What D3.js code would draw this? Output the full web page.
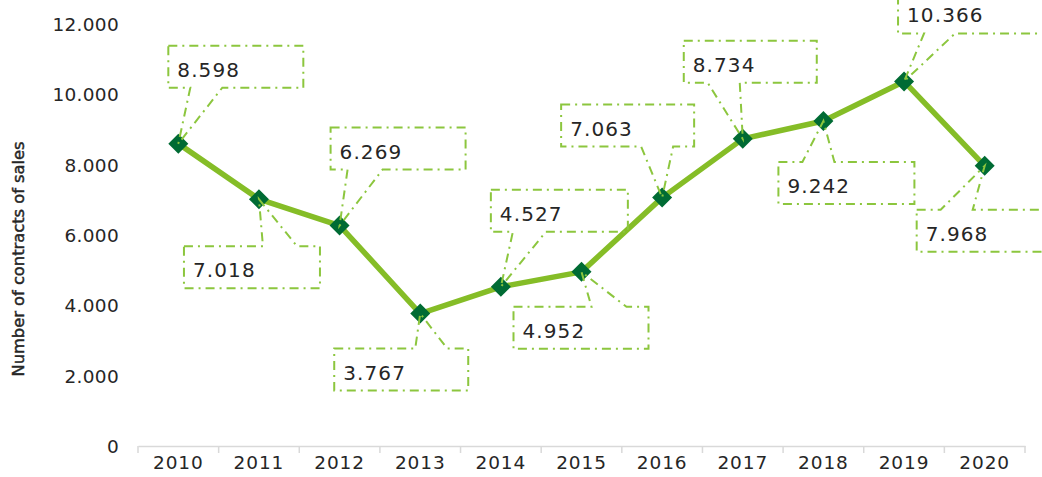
<!DOCTYPE html>
<html><head><meta charset="utf-8">
<script src="https://cdn.jsdelivr.net/npm/d3@7"></script>
<style>body{margin:0;background:#fff}svg{display:block}</style>
</head><body>
<svg id="c" width="1042" height="477"></svg>
<script>
const years = ["2010","2011","2012","2013","2014","2015","2016","2017","2018","2019","2020"];
const contracts = [8598, 7018, 6269, 3767, 4527, 4952, 7063, 8734, 9242, 10366, 7968];
const yTicks = [0, 2000, 4000, 6000, 8000, 10000, 12000];
const yTitle = "Number of contracts of sales";

// callout layout (pixel offsets from the point), kept apart from the data
const calloutLayout = [
  {dx:-10, dy:-98, w:135, side:"bottom", wa:22, wb:54},
  {dx:-75, dy:47,  w:136, side:"top",    wa:79, wb:113},
  {dx:-9,  dy:-98, w:135, side:"bottom", wa:17, wb:52},
  {dx:-86, dy:35,  w:134, side:"top",    wa:81, wb:113},
  {dx:-10, dy:-97, w:137, side:"bottom", wa:22, wb:55},
  {dx:-68, dy:35,  w:135, side:"top",    wa:78, wb:113},
  {dx:-101,dy:-93, w:133, side:"bottom", wa:80, wb:112},
  {dx:-59, dy:-98, w:133, side:"bottom", wa:24, wb:56},
  {dx:-45, dy:41,  w:136, side:"top",    wa:24, wb:56},
  {dx:-6,  dy:-90, w:150, side:"bottom", wa:26, wb:57},
  {dx:-68, dy:44,  w:140, side:"top",    wa:24, wb:56}
];

const svg = d3.select("#c");
const locale = d3.formatLocale({decimal:",", thousands:".", grouping:[3], currency:["",""]});
const fmt = locale.format(",d");

const x = d3.scaleBand().domain(years).range([138, 1025]);
const y = d3.scaleLinear().domain([0, 12000]).range([446, 24]);
const font = "DejaVu Sans, Verdana, sans-serif";
const lime = "#85bd27", dark = "#006b34", textCol = "#262626";

// y axis
const ya = svg.append("g").attr("transform","translate(126,0)")
  .call(d3.axisLeft(y).tickValues(yTicks).tickFormat(fmt).tickSize(0).tickPadding(7));
ya.select(".domain").remove();
ya.selectAll("text").attr("font-family",font).attr("font-size",18.5).attr("fill",textCol)
  .attr("letter-spacing","0.3px").attr("dy","0.35em");

// x axis
const xa = svg.append("g").attr("transform","translate(0,446)")
  .call(d3.axisBottom(x).tickSize(0).tickPadding(12));
xa.select(".domain").attr("stroke","#d9d9d9").attr("stroke-width",1.5);
xa.selectAll("text").attr("font-family",font).attr("font-size",18.5).attr("fill",textCol)
  .attr("letter-spacing","0.9px").attr("dy","0.6em");
const bounds = years.map(d => x(d)).concat([x.range()[1]]);
xa.selectAll("line.bt").data(bounds).enter().append("line").attr("class","bt")
  .attr("x1",d=>d).attr("x2",d=>d).attr("y1",0).attr("y2",7)
  .attr("stroke","#d9d9d9").attr("stroke-width",1.5);

// y title
svg.append("text").attr("transform","translate(24,259) rotate(-90)")
  .attr("text-anchor","middle").attr("font-family",font).attr("font-size",16.3)
  .attr("fill",textCol).attr("stroke",textCol).attr("stroke-width",0.45).text(yTitle);

const cx = d => x(d) + x.bandwidth()/2;

// line
svg.append("path").datum(years.map((d,i)=>[cx(d), y(contracts[i])]))
  .attr("d", d3.line()).attr("fill","none").attr("stroke",lime)
  .attr("stroke-width",5.5).attr("stroke-linejoin","round");

// markers
svg.selectAll("path.mk").data(years).enter().append("path").attr("class","mk")
  .attr("d", d3.symbol(d3.symbolSquare, 200)())
  .attr("transform",(d,i)=>`translate(${cx(d)},${y(contracts[i])}) rotate(45)`)
  .attr("fill",dark);

// callouts
const H = 42;
const g = svg.append("g");
years.forEach((d,i)=>{
  const tx = cx(d), ty = y(contracts[i]);
  const c = calloutLayout[i];
  const L = tx + c.dx, T = ty + c.dy, R = L + c.w, B = T + H;
  let pts;
  if (c.side === "bottom") {
    pts = [[L,T],[R,T],[R,B],[L+c.wb,B],[tx,ty],[L+c.wa,B],[L,B]];
  } else {
    pts = [[L,T],[L+c.wa,T],[tx,ty],[L+c.wb,T],[R,T],[R,B],[L,B]];
  }
  g.append("path").attr("d","M"+pts.map(p=>p.join(",")).join("L")+"Z")
    .attr("fill","none").attr("stroke","#8cc63e").attr("stroke-width",2)
    .attr("stroke-dasharray","9,5,2,5");
  g.append("text").attr("x",L+9).attr("y",T+31)
    .attr("font-family",font).attr("font-size",20).attr("fill",textCol)
    .attr("letter-spacing","1.1px").text(fmt(contracts[i]));
});
</script>
</body></html>
